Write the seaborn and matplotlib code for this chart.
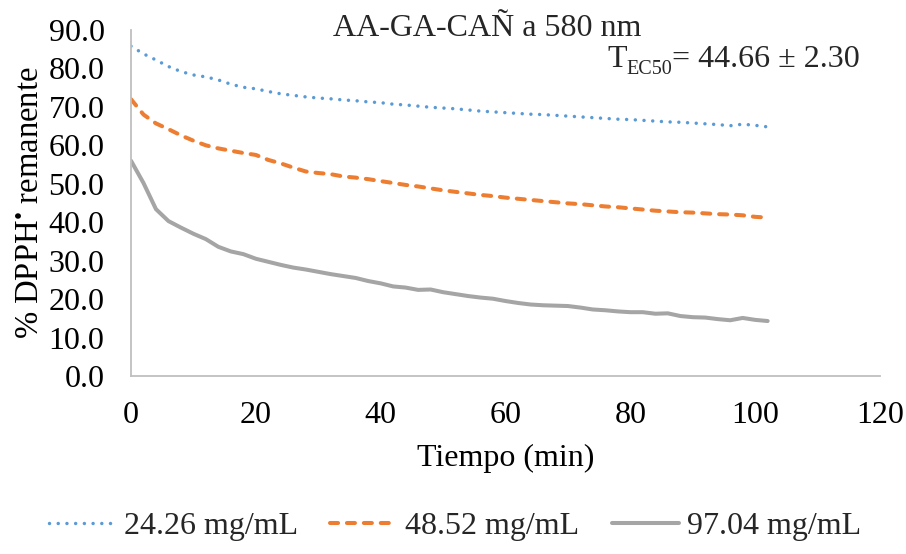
import numpy as np
import pandas as pd
import matplotlib
matplotlib.use("Agg")
import matplotlib.pyplot as plt
import seaborn as sns

# Sampling times (min)
tiempo = list(range(0, 104, 2))

# % DPPH remaining for each concentration
c_24 = [85.8, 83.8, 82.2, 80.5, 79.2, 78.3, 77.8, 77.0, 75.9, 75.1,
        74.7, 74.0, 73.4, 73.0, 72.6, 72.3, 72.1, 71.8, 71.6, 71.3,
        71.1, 70.7, 70.5, 70.2, 69.9, 69.7, 69.5, 69.2, 68.9, 68.7,
        68.5, 68.3, 68.1, 68.0, 67.8, 67.6, 67.4, 67.2, 67.0, 66.8,
        66.7, 66.5, 66.3, 66.1, 66.0, 65.8, 65.6, 65.4, 65.1, 65.5,
        65.2, 64.8]
c_48 = [72.0, 68.0, 65.7, 64.2, 62.6, 61.2, 60.0, 59.2, 58.6, 58.0,
        57.5, 56.2, 55.3, 54.2, 53.2, 52.8, 52.5, 51.9, 51.6, 51.2,
        50.7, 50.2, 49.7, 49.3, 48.8, 48.3, 47.9, 47.5, 47.1, 46.8,
        46.4, 46.1, 45.8, 45.5, 45.2, 44.9, 44.7, 44.4, 44.1, 43.9,
        43.6, 43.3, 43.0, 42.8, 42.6, 42.5, 42.3, 42.1, 42.0, 41.8,
        41.4, 41.2]
c_97 = [56.0, 50.2, 43.4, 40.3, 38.6, 37.0, 35.6, 33.6, 32.4, 31.7,
        30.5, 29.7, 28.9, 28.2, 27.7, 27.1, 26.5, 26.0, 25.5, 24.7,
        24.1, 23.3, 23.0, 22.4, 22.5, 21.8, 21.3, 20.8, 20.4, 20.1,
        19.5, 19.0, 18.6, 18.4, 18.3, 18.2, 17.8, 17.3, 17.1, 16.8,
        16.6, 16.6, 16.2, 16.3, 15.6, 15.3, 15.2, 14.8, 14.5, 15.1,
        14.6, 14.3]

series_labels = ["24.26 mg/mL", "48.52 mg/mL", "97.04 mg/mL"]
series_colors = ["#5B9BD5", "#ED7D31", "#A5A5A5"]

x_ticks = [0, 20, 40, 60, 80, 100, 120]
y_ticks = [0, 10, 20, 30, 40, 50, 60, 70, 80, 90]

sns.set_theme(style="white")
plt.rcParams["font.family"] = ["Liberation Serif", "DejaVu Serif"]
plt.rcParams["mathtext.fontset"] = "custom"
plt.rcParams["mathtext.rm"] = "Liberation Serif"
plt.rcParams["mathtext.it"] = "Liberation Serif:italic"
plt.rcParams["mathtext.bf"] = "Liberation Serif:bold"

FS = 23

fig = plt.figure(figsize=(9.06, 5.54), dpi=100)
ax = fig.add_axes([131 / 906, 1 - 376 / 554, 749 / 906, 346 / 554])

df = pd.DataFrame({"t": tiempo, "a": c_24, "b": c_48, "c": c_97})

sns.lineplot(data=df, x="t", y="a", ax=ax, color=series_colors[0],
             linewidth=2.5, linestyle=(0, (0.01, 2.5)),
             dash_capstyle="round", label=series_labels[0])
sns.lineplot(data=df, x="t", y="b", ax=ax, color=series_colors[1],
             linewidth=2.9, linestyle=(0, (2.0, 2.2)),
             dash_capstyle="round", label=series_labels[1])
sns.lineplot(data=df, x="t", y="c", ax=ax, color=series_colors[2],
             linewidth=2.9, solid_capstyle="round", label=series_labels[2])

ax.set_xlim(0, 120)
ax.set_ylim(0, 90)
ax.set_xticks(x_ticks)
ax.set_yticks(y_ticks)
ax.set_xticklabels([str(v) for v in x_ticks])
ax.set_yticklabels([f"{v:.1f}" for v in y_ticks])
ax.tick_params(axis="both", length=0, labelsize=FS, colors="black")
ax.tick_params(axis="x", pad=18)
ax.tick_params(axis="y", pad=19)
for side in ("top", "right"):
    ax.spines[side].set_visible(False)
for side in ("left", "bottom"):
    ax.spines[side].set_color("#BFBFBF")
    ax.spines[side].set_linewidth(1.3)
ax.grid(False)

ax.set_xlabel("Tiempo (min)", fontsize=FS, color="black", labelpad=10)
ax.set_ylabel("% DPPH$^{\\mathrm{•}}$ remanente", fontsize=FS + 0.5,
              color="black", labelpad=2)

fig.text(487 / 906, 1 - 36 / 554, "AA-GA-CAÑ a 580 nm", fontsize=FS,
         ha="center", va="baseline")

# T_EC50 annotation built from pieces so the subscript sits low
fig.canvas.draw()
renderer = fig.canvas.get_renderer()
base_y = 1 - 67 / 554
sub_y = 1 - 74 / 554
x0 = 607 / 906
t1 = fig.text(x0, base_y, "T", fontsize=FS, ha="left", va="baseline")
w1 = t1.get_window_extent(renderer).width / fig.bbox.width
t2 = fig.text(x0 + w1, sub_y, "EC50", fontsize=14.5, ha="left", va="baseline")
w2 = t2.get_window_extent(renderer).width / fig.bbox.width
fig.text(x0 + w1 + w2, base_y, "= 44.66 ± 2.30", fontsize=FS,
         ha="left", va="baseline")

handles, labels = ax.get_legend_handles_labels()
ax.get_legend().remove()
fig.legend(handles, labels, loc="center", bbox_to_anchor=(455 / 906, 1 - 526 / 554),
           ncol=3, frameon=False, fontsize=FS, handlelength=2.1,
           handletextpad=0.25, columnspacing=1.0, borderaxespad=0)

fig.savefig("out.png", dpi=100)
